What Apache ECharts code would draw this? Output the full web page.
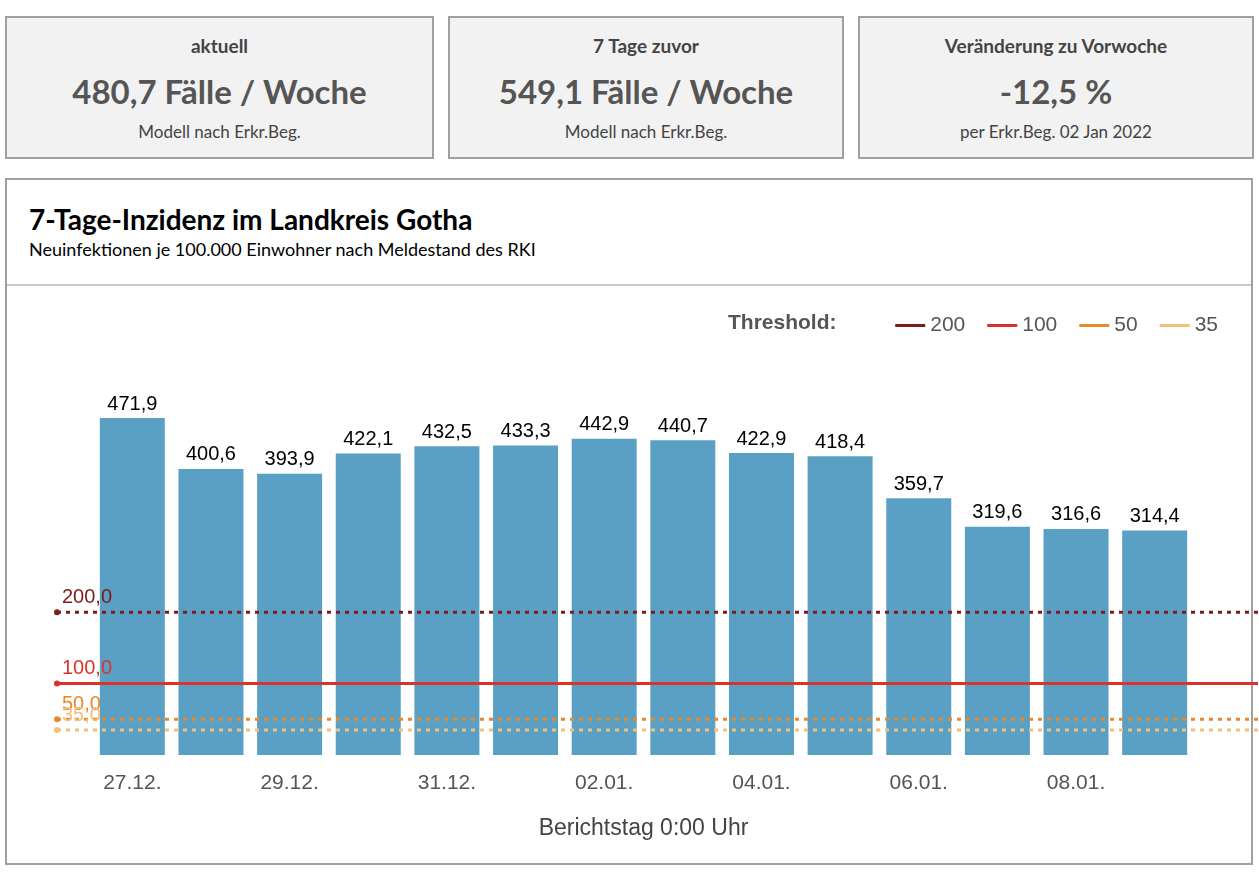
<!DOCTYPE html>
<html><head><meta charset="utf-8">
<script src="https://cdn.jsdelivr.net/npm/echarts@6/dist/echarts.min.js"></script>
<style>
body{margin:0;width:1259px;height:879px;background:#fff;font-family:Lato,"Noto Sans",sans-serif;position:relative;overflow:hidden}
.card{position:absolute;top:16px;height:143px;background:#f2f2f2;border:2px solid #a0a0a0;box-sizing:border-box;text-align:center;color:#444}
.card .h{margin-top:16px;font-size:19px;font-weight:bold}
.card .v{margin-top:14px;font-size:33px;font-weight:bold;color:#555}
.card .s{margin-top:10px;font-size:17px}
#panel{position:absolute;left:5px;top:178px;width:1248px;height:687px;border:2px solid #a0a0a0;box-sizing:border-box}
#t{position:absolute;left:22px;top:22px;font-size:28px;font-weight:bold;color:#000}
#st{position:absolute;left:22px;top:58px;font-size:18px;color:#000}
#sep{position:absolute;left:0;right:0;top:104px;border-top:2px solid #c8c8c8}
#c{position:absolute;left:0;top:0;width:1259px;height:879px}
</style></head><body>
<div class="card" style="left:5px;width:429px"><div class="h">aktuell</div><div class="v">480,7 Fälle / Woche</div><div class="s">Modell nach Erkr.Beg.</div></div>
<div class="card" style="left:448px;width:396px"><div class="h">7 Tage zuvor</div><div class="v">549,1 Fälle / Woche</div><div class="s">Modell nach Erkr.Beg.</div></div>
<div class="card" style="left:858px;width:396px"><div class="h">Veränderung zu Vorwoche</div><div class="v">-12,5 %</div><div class="s">per Erkr.Beg. 02 Jan 2022</div></div>
<div id="panel"><div id="t">7-Tage-Inzidenz im Landkreis Gotha</div><div id="st">Neuinfektionen je 100.000 Einwohner nach Meldestand des RKI</div><div id="sep"></div></div>
<div id="c"></div>
<script>
const categories=["27.12.","28.12.","29.12.","30.12.","31.12.","01.01.","02.01.","03.01.","04.01.","05.01.","06.01.","07.01.","08.01.","09.01."];
const incidence=[471.9,400.6,393.9,422.1,432.5,433.3,442.9,440.7,422.9,418.4,359.7,319.6,316.6,314.4];
const thresholds=[200,100,50,35];
const thresholdNames=["200","100","50","35"];
const thresholdColors=["#7a1d1d","#d8342b","#e8892f","#f3c07a"];
const thresholdTypes=[[4,5],"solid",[4,5],[4,5]];
const fmt=v=>v.toFixed(1).replace('.',',');
const ch=echarts.init(document.getElementById('c'));
const thrSeries=thresholds.map((t,i)=>({
 name:thresholdNames[i],type:'line',xAxisIndex:1,yAxisIndex:1,z:5,
 color:thresholdColors[i],
 lineStyle:{color:thresholdColors[i],width:3,type:thresholdTypes[i]},
 itemStyle:{color:thresholdColors[i]},
 symbol:'none',
 data:[{value:[0,t],symbol:'circle',symbolSize:6,label:{show:true,position:[8,-22],formatter:()=>fmt(t),color:thresholdColors[i],fontSize:20,fontFamily:'Liberation Sans'}},{value:[1,t]}]
}));
ch.setOption({
 animation:false,
 legend:{right:36,top:310,itemWidth:30,itemGap:22,data:thresholdNames,textStyle:{fontSize:21,color:'#555',fontFamily:'Liberation Sans'},icon:'path://M0,0L30,0L30,3L0,3Z'},
 graphic:[{type:'text',left:728,top:313,style:{text:'Threshold:',font:'bold 21px "Liberation Sans"',fill:'#555'}}],
 grid:[{left:93,right:65,top:398,bottom:124},{left:57,right:1,top:398,bottom:124}],
 xAxis:[{type:'category',data:categories,axisLine:{show:false},axisTick:{show:false},
   axisLabel:{interval:1,color:'#555',fontSize:21,fontFamily:'Liberation Sans',margin:18},
   name:'Berichtstag 0:00 Uhr',nameLocation:'middle',nameGap:62,nameTextStyle:{fontSize:23,color:'#444',fontFamily:'Liberation Sans'}},
  {type:'value',gridIndex:1,min:0,max:1,show:false}],
 yAxis:[{type:'value',min:0,max:500,show:false,splitLine:{show:false}},{type:'value',gridIndex:1,min:0,max:500,show:false}],
 series:[{type:'bar',data:incidence,barWidth:65,itemStyle:{color:'#5a9fc4'},
   label:{show:true,position:'top',formatter:p=>fmt(p.value),color:'#000',fontSize:20,fontFamily:'Liberation Sans',distance:4}},
  ...thrSeries]
});
</script></body></html>
